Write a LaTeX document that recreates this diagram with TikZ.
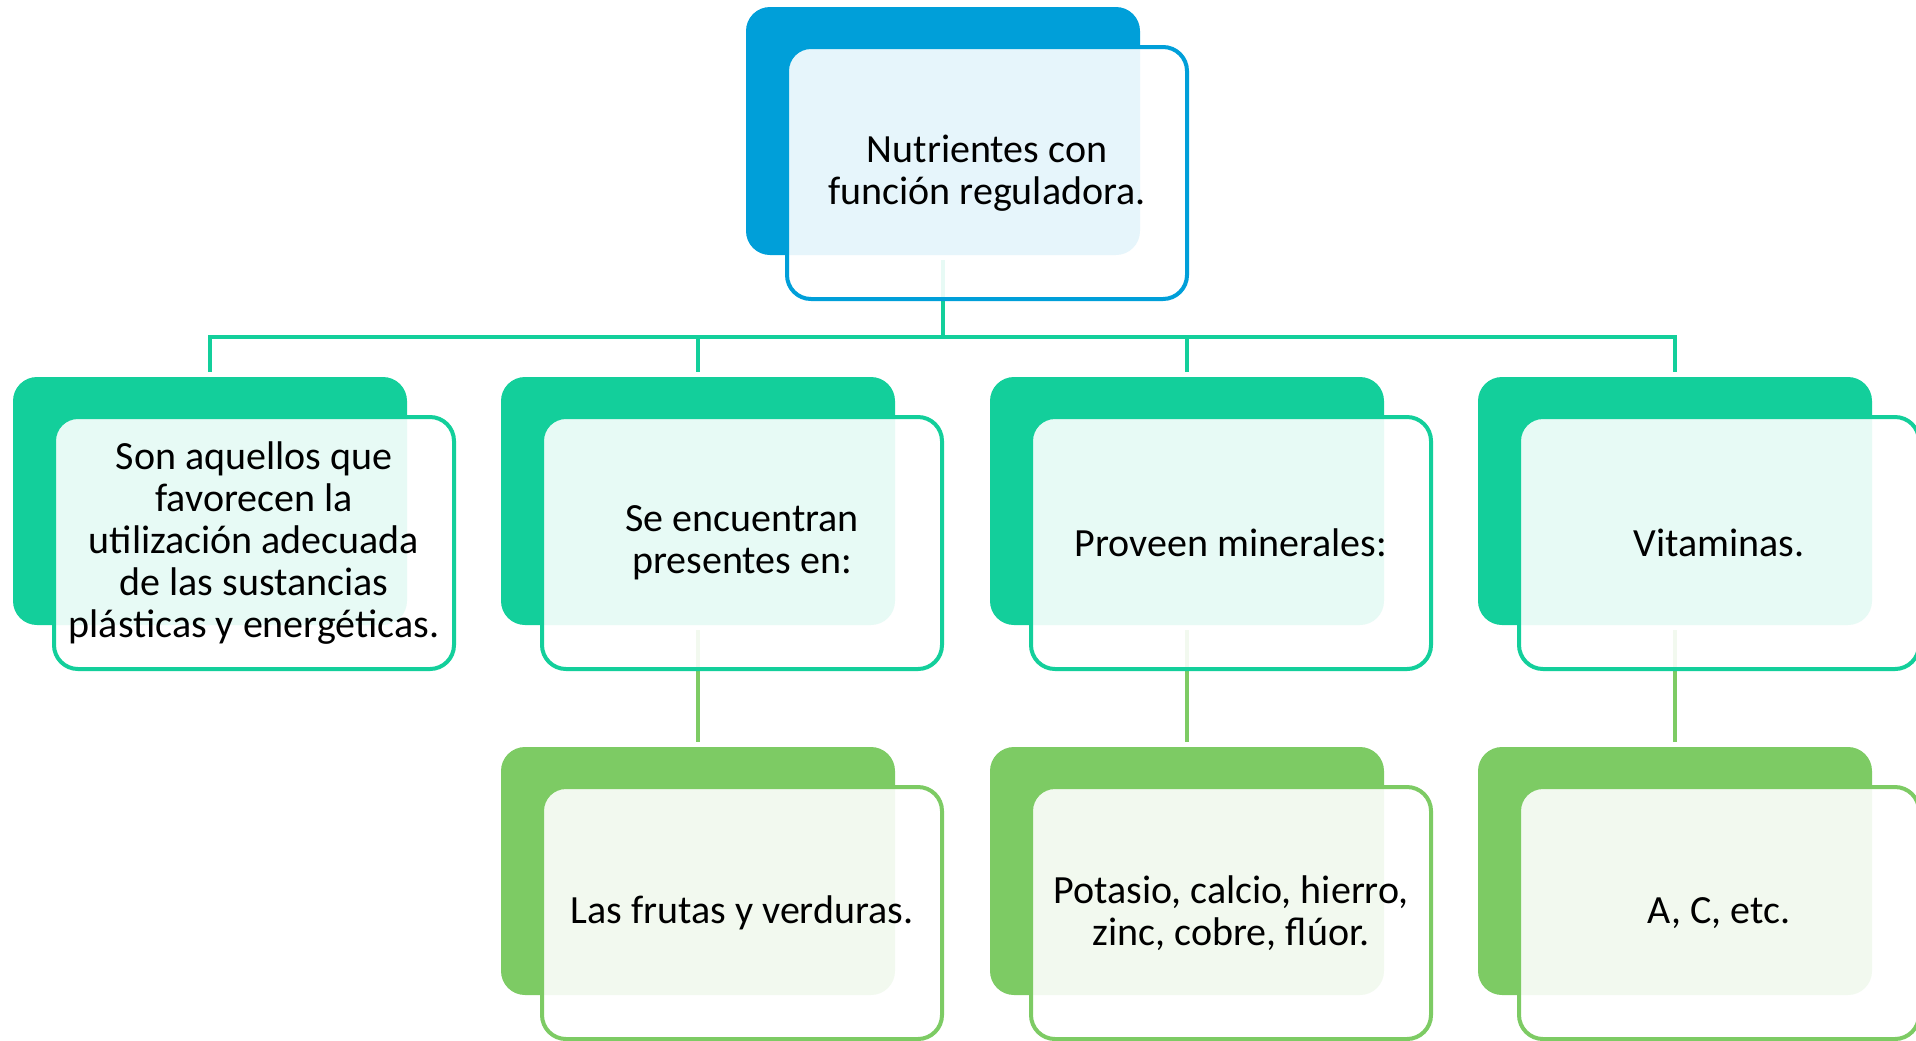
\documentclass[tikz,border=0pt]{standalone}
\usepackage{fontspec}
\setmainfont{Carlito}
\usepackage{xcolor}
\usepackage{tikz}

\definecolor{azul}{HTML}{009FD9}
\definecolor{verdeA}{HTML}{13CF9B}
\definecolor{verdeB}{HTML}{7DCB64}

\tikzset{
	fondo/.style={rectangle, rounded corners=12pt, minimum width=197pt, minimum height=124pt, inner sep=0pt},
	frente/.style={draw, line width=2pt, rectangle, rounded corners=12pt, fill=white, fill opacity=0.9, text opacity=1,
		minimum width=200pt, minimum height=126pt, inner sep=0pt, align=center, font=\fontsize{20}{21}\selectfont},
	enlace/.style={line width=2pt, shorten <=2.5pt, shorten >=2.5pt}
}

\begin{document}
\begin{tikzpicture}[x=0.5pt, y=-0.5pt]
	\useasboundingbox (0,0) rectangle (1916,1040);
	% cajas de fondo
	\node[fondo, fill=azul] (nutF) at (943,131) {};
	\node[fondo, fill=verdeA] (sonF) at (210,501) {};
	\node[fondo, fill=verdeA] (seF) at (698,501) {};
	\node[fondo, fill=verdeA] (provF) at (1187,501) {};
	\node[fondo, fill=verdeA] (vitF) at (1675,501) {};
	\node[fondo, fill=verdeB] (frutF) at (698,871) {};
	\node[fondo, fill=verdeB] (potF) at (1187,871) {};
	\node[fondo, fill=verdeB] (acF) at (1675,871) {};
	% enlaces
	\coordinate (bus) at (943,337);
	\foreach \h in {sonF, seF, provF, vitF}
		\draw[enlace, verdeA] (nutF.south) -- (nutF.south |- bus) -- (\h.north |- bus) -- (\h.north);
	\draw[enlace, verdeB] (seF.south) -- (frutF.north);
	\draw[enlace, verdeB] (provF.south) -- (potF.north);
	\draw[enlace, verdeB] (vitF.south) -- (acF.north);
	% cajas de texto
	\node[frente, draw=azul] (nut) at ([xshift=22pt, yshift=-21pt]nutF.center) {Nutrientes con\\función reguladora.};
	\node[frente, draw=verdeA] (son) at ([xshift=22pt, yshift=-21pt]sonF.center) {Son aquellos que\\favorecen la\\utilización adecuada\\de las sustancias\\plásticas y energéticas.};
	\node[frente, draw=verdeA] (se) at ([xshift=22pt, yshift=-21pt]seF.center) {Se encuentran\\presentes en:};
	\node[frente, draw=verdeA] (prov) at ([xshift=22pt, yshift=-21pt]provF.center) {Proveen minerales:};
	\node[frente, draw=verdeA] (vit) at ([xshift=22pt, yshift=-21pt]vitF.center) {Vitaminas.};
	\node[frente, draw=verdeB] (frut) at ([xshift=22pt, yshift=-21pt]frutF.center) {Las frutas y verduras.};
	\node[frente, draw=verdeB] (pot) at ([xshift=22pt, yshift=-21pt]potF.center) {Potasio, calcio, hierro,\\zinc, cobre, flúor.};
	\node[frente, draw=verdeB] (ac) at ([xshift=22pt, yshift=-21pt]acF.center) {A, C, etc.};
\end{tikzpicture}
\end{document}
